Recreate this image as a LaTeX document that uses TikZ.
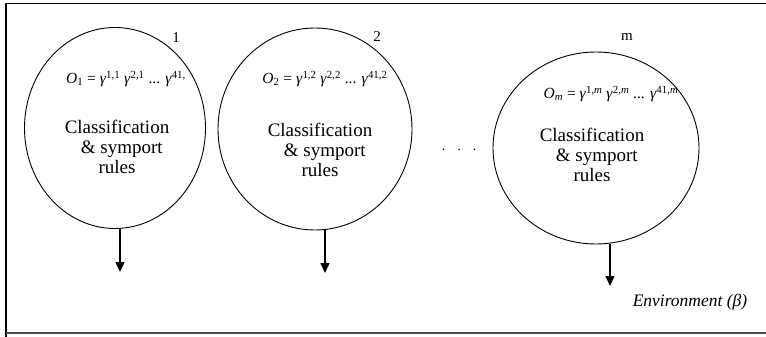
\documentclass[tikz,border=0pt]{standalone}
\usepackage{fontspec}
\setmainfont{Liberation Serif}
\usetikzlibrary{shapes.geometric,arrows.meta}
\newcommand{\gsup}[1]{\textit{γ}\textsuperscript{#1}}
\begin{document}
\begin{tikzpicture}[x=1pt,y=-1pt,
  cell/.style={draw, ellipse, line width=0.9pt, inner sep=0pt},
  rules/.style={align=center, font=\fontsize{19}{20}\selectfont},
  formula/.style={font=\fontsize{15.5}{17}\selectfont, inner sep=0pt},
  idx/.style={font=\fontsize{15}{17}\selectfont, inner sep=0pt},
  outarrow/.style={line width=1.4pt, -{Triangle[width=9pt,length=10pt]}}]
\useasboundingbox (0,0) rectangle (766,337);
% frame
\draw[line width=1.6pt] (6,337) -- (6,3.5) -- (766,3.5);
\draw[line width=1.2pt, black!70] (6,333) -- (766,333);
% cells
\node[cell, minimum width=181pt, minimum height=201pt] (c1) at (115,128) {};
\node[cell, minimum width=194pt, minimum height=202pt] (c2) at (315,129) {};
\node[cell, minimum width=206pt, minimum height=192pt] (c3) at (596,148) {};
% labels
\node[idx] (l1) at (176,38) {1};
\node[idx] (l2) at (377,37) {2};
\node[idx] (l3) at (627,37) {m};
% formulas
\node[formula] (f1) at (126,79) {\textit{O}\textsubscript{1} = \gsup{1,1} \gsup{2,1} ... \gsup{41,}};
\node[formula] (f2) at (325,79) {\textit{O}\textsubscript{2} = \gsup{1,2} \gsup{2,2} ... \gsup{41,2}};
\node[formula] (f3) at (611,94) {\textit{O}\textsubscript{\textit{m}} = \gsup{1,\textit{m}} \gsup{2,\textit{m}} ... \gsup{41,\textit{m}}};
% rules text
\node[rules] (r1) at (117,147) {Classification\\\ \ \& symport\\rules};
\node[rules] (r2) at (320,150) {Classification\\\ \ \& symport\\rules};
\node[rules] (r3) at (592,155) {Classification\\\ \ \& symport\\rules};
% dots
\node[font=\fontsize{14}{16}\selectfont] (dots) at (459,150) {.\hspace{12pt}.\hspace{12pt}.};
% arrows
\coordinate (e1) at (120,272);
\coordinate (e2) at (325,273);
\coordinate (e3) at (610,286);
\draw[outarrow] (c1.south -| e1) -- (e1);
\draw[outarrow] (c2.south -| e2) -- (e2);
\draw[outarrow] (c3.south -| e3) -- (e3);
% environment
\node[font=\fontsize{17.5}{19}\selectfont\itshape] (env) at (690,302) {Environment (β)};
\end{tikzpicture}
\end{document}
